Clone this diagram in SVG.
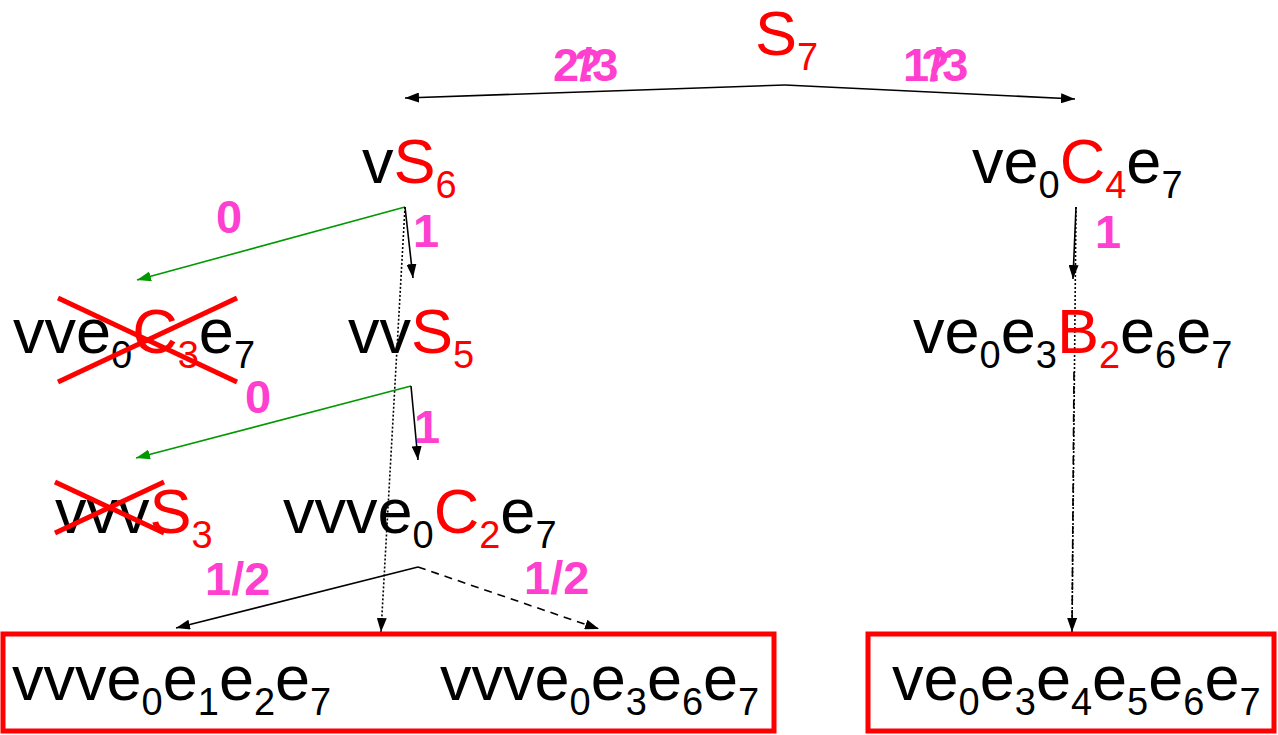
<svg xmlns="http://www.w3.org/2000/svg" width="1278" height="735" viewBox="0 0 1278 735">
<style>
.t{font-family:"Liberation Sans",Arial,sans-serif;font-size:63px;fill:#000}
.r{fill:#ff0000}
.lb{font-family:"Liberation Sans",Arial,sans-serif;font-size:47px;font-weight:bold;fill:#ff3fcf}
.ln{stroke:#000;stroke-width:1.6;fill:none}
.gr{stroke:#009900;stroke-width:1.6;fill:none}
.x{stroke:#ff0000;stroke-width:5;stroke-linecap:butt}
.box{fill:none;stroke:#ff0000;stroke-width:5}
</style>
<defs>
<marker id="ab" viewBox="0 0 14 10" refX="14" refY="5" markerWidth="14" markerHeight="10" markerUnits="userSpaceOnUse" orient="auto"><path d="M0,0 L14,5 L0,10 Z" fill="#000"/></marker>
<marker id="ag" viewBox="0 0 14 10" refX="14" refY="5" markerWidth="14" markerHeight="10" markerUnits="userSpaceOnUse" orient="auto"><path d="M0,0 L14,5 L0,10 Z" fill="#009900"/></marker>
</defs>
<g id="connectors">
<polyline class="ln" points="785,85 405,98" marker-end="url(#ab)"/>
<polyline class="ln" points="785,85 1075,99" marker-end="url(#ab)"/>
<line class="gr" x1="405" y1="207" x2="137" y2="280" marker-end="url(#ag)"/>
<line class="ln" x1="405" y1="207" x2="413" y2="278" marker-end="url(#ab)"/>
<line class="ln" x1="405" y1="207" x2="381" y2="632" stroke-dasharray="2,2" marker-end="url(#ab)"/>
<line class="gr" x1="411" y1="386" x2="136" y2="458" marker-end="url(#ag)"/>
<line class="ln" x1="411" y1="386" x2="418" y2="460" marker-end="url(#ab)"/>
<line class="ln" x1="418" y1="567" x2="176" y2="628" marker-end="url(#ab)"/>
<line class="ln" x1="418" y1="567" x2="599" y2="629" stroke-dasharray="8,6" marker-end="url(#ab)"/>
<line class="ln" x1="1076" y1="207" x2="1073" y2="279" marker-end="url(#ab)"/>
<line class="ln" x1="1076" y1="207" x2="1072" y2="632" stroke-dasharray="2,2"/>
<line class="ln" x1="1074" y1="372" x2="1072" y2="632" stroke-dasharray="8,6" marker-end="url(#ab)"/>
</g>
<g id="labels">
<text class="lb" x="553" y="81">2/3</text>
<text class="lb" x="574" y="81">?</text>
<text class="lb" x="903" y="81">1/3</text>
<text class="lb" x="921" y="81">?</text>
<text class="lb" x="216" y="233">0</text>
<text class="lb" x="413" y="247">1</text>
<text class="lb" x="245" y="413">0</text>
<text class="lb" x="414" y="443">1</text>
<text class="lb" x="205" y="595">1/2</text>
<text class="lb" x="524" y="594">1/2</text>
<text class="lb" x="1095" y="248">1</text>
</g>
<g id="n-s7"><text class="t r" x="755" y="55">S<tspan font-size="38" dy="15">7</tspan></text></g>
<g id="n-vs6"><text class="t" x="362" y="183">v<tspan class="r">S</tspan><tspan class="r" font-size="38" dy="15">6</tspan></text></g>
<g id="n-ve0c4e7"><text class="t" x="972" y="183">ve<tspan font-size="38" dy="15">0</tspan><tspan class="r" dy="-15">C</tspan><tspan class="r" font-size="38" dy="15">4</tspan><tspan dy="-15">e</tspan><tspan font-size="38" dy="15">7</tspan></text></g>
<g id="n-vve0c3e7"><text class="t" x="13" y="353">vve<tspan font-size="38" dy="15">0</tspan><tspan class="r" dy="-15">C</tspan><tspan class="r" font-size="38" dy="15">3</tspan><tspan dy="-15">e</tspan><tspan font-size="38" dy="15">7</tspan></text>
<line class="x" x1="58" y1="298" x2="237" y2="382"/><line class="x" x1="58" y1="382" x2="237" y2="298"/></g>
<g id="n-vvs5"><text class="t" x="348" y="353">vv<tspan class="r">S</tspan><tspan class="r" font-size="38" dy="15">5</tspan></text></g>
<g id="n-ve0e3b2e6e7"><text class="t" x="913" y="353">ve<tspan font-size="38" dy="15">0</tspan><tspan dy="-15">e</tspan><tspan font-size="38" dy="15">3</tspan><tspan class="r" dy="-15">B</tspan><tspan class="r" font-size="38" dy="15">2</tspan><tspan dy="-15">e</tspan><tspan font-size="38" dy="15">6</tspan><tspan dy="-15">e</tspan><tspan font-size="38" dy="15">7</tspan></text></g>
<g id="n-vvvs3"><text class="t" x="55" y="533">vvv<tspan class="r">S</tspan><tspan class="r" font-size="38" dy="15">3</tspan></text>
<line class="x" x1="55" y1="482" x2="164" y2="533"/><line class="x" x1="55" y1="533" x2="164" y2="482"/></g>
<g id="n-vvve0c2e7"><text class="t" x="283" y="533">vvve<tspan font-size="38" dy="15">0</tspan><tspan class="r" dy="-15">C</tspan><tspan class="r" font-size="38" dy="15">2</tspan><tspan dy="-15">e</tspan><tspan font-size="38" dy="15">7</tspan></text></g>
<g id="n-leaves-left"><rect class="box" x="3" y="634" width="771" height="97"/>
<text class="t" x="12" y="700">vvve<tspan font-size="38" dy="15">0</tspan><tspan dy="-15">e</tspan><tspan font-size="38" dy="15">1</tspan><tspan dy="-15">e</tspan><tspan font-size="38" dy="15">2</tspan><tspan dy="-15">e</tspan><tspan font-size="38" dy="15">7</tspan></text>
<text class="t" x="440" y="700">vvve<tspan font-size="38" dy="15">0</tspan><tspan dy="-15">e</tspan><tspan font-size="38" dy="15">3</tspan><tspan dy="-15">e</tspan><tspan font-size="38" dy="15">6</tspan><tspan dy="-15">e</tspan><tspan font-size="38" dy="15">7</tspan></text></g>
<g id="n-leaf-right"><rect class="box" x="868" y="634" width="406" height="97"/>
<text class="t" x="892" y="700">ve<tspan font-size="38" dy="15">0</tspan><tspan dy="-15">e</tspan><tspan font-size="38" dy="15">3</tspan><tspan dy="-15">e</tspan><tspan font-size="38" dy="15">4</tspan><tspan dy="-15">e</tspan><tspan font-size="38" dy="15">5</tspan><tspan dy="-15">e</tspan><tspan font-size="38" dy="15">6</tspan><tspan dy="-15">e</tspan><tspan font-size="38" dy="15">7</tspan></text></g>
</svg>
